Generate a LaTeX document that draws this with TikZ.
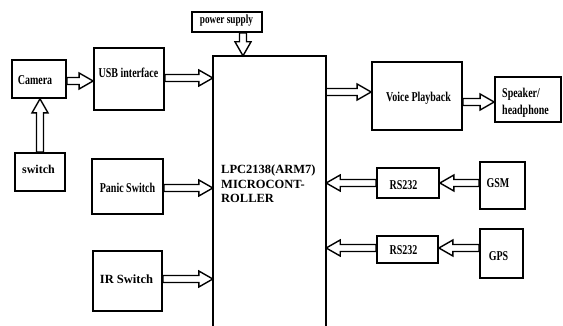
\documentclass[tikz,border=0pt]{standalone}
\usepackage{fontspec}
\setmainfont{Liberation Serif}
\newfontfamily\cnd[FakeStretch=0.74]{Liberation Serif Bold}
\newfontfamily\nrm{Liberation Serif Bold}
\usetikzlibrary{calc}
\begin{document}
\begin{tikzpicture}[x=1pt,y=-1pt,
  box/.style={draw, line width=1.8pt, inner sep=0pt},
  ct/.style={font=\cnd\fontsize{13.5}{17}\selectfont, inner sep=0pt},
  nt/.style={font=\nrm\fontsize{12.5}{14.5}\selectfont, inner sep=0pt},
  hol/.style={draw, line width=1.4pt, fill=white, line join=miter,
    to path={let \p3=($(\tikztotarget)!14pt!(\tikztostart)$) in
      ($(\tikztostart)!3.5pt!90:(\tikztotarget)$) -- ($(\p3)!3.5pt!90:(\tikztotarget)$)
      -- ($(\p3)!8pt!90:(\tikztotarget)$) -- (\tikztotarget)
      -- ($(\p3)!8pt!-90:(\tikztotarget)$) -- ($(\p3)!3.5pt!-90:(\tikztotarget)$)
      -- ($(\tikztostart)!3.5pt!-90:(\tikztotarget)$) -- cycle}}
]
\useasboundingbox (0,0) rectangle (563,326);

% boxes
\node[box, minimum width=70, minimum height=20] (power) at (227,22) {};
\node[minimum width=113, minimum height=270, inner sep=0pt] (mcu) at (269.5,191) {};
\draw[line width=1.5pt] (mcu.south west) -- (mcu.north west) -- (mcu.north east) -- (mcu.south east);
\node[box, minimum width=54, minimum height=38] (camera) at (39,79) {};
\node[box, minimum width=70, minimum height=62] (usb) at (129,79) {};
\node[box, minimum width=50, minimum height=38] (sw) at (40,172) {};
\node[box, minimum width=71, minimum height=55] (panic) at (127.5,186.5) {};
\node[box, minimum width=69, minimum height=60] (ir) at (127.5,281) {};
\node[box, minimum width=90, minimum height=68] (voice) at (417,96) {};
\node[box, minimum width=66, minimum height=45] (speaker) at (528,99.5) {};
\node[box, minimum width=62, minimum height=30] (rsa) at (408,183) {};
\node[box, minimum width=45, minimum height=47] (gsm) at (502.5,185.5) {};
\node[box, minimum width=61, minimum height=27] (rsb) at (407.5,249.5) {};
\node[box, minimum width=43, minimum height=49] (gps) at (501.5,253.5) {};

% labels
\node[ct, font=\cnd\fontsize{12.5}{14}\selectfont] (powert) at (226.5,21) {power supply};
\node[nt, anchor=north west, align=left] (mcut) at (221,165) {LPC2138(ARM7)\\MICROCONT-\\ROLLER};
\node[ct] (camerat) at (35,80) {Camera};
\node[ct] (usbt) at (128.5,73) {USB interface};
\node[nt, font=\nrm\fontsize{12}{14}\selectfont] (swt) at (38.5,169) {switch};
\node[ct] (panict) at (127.5,188) {Panic Switch};
\node[nt] (irt) at (126.5,279) {IR Switch};
\node[ct] (voicet) at (418.5,98) {Voice Playback};
\node[ct, anchor=west, align=left] (speakert) at (502,102.5) {Speaker/\\headphone};
\node[ct] (rsat) at (403.5,185) {RS232};
\node[ct] (rsbt) at (403.5,250) {RS232};
\node[ct] (gsmt) at (498,183) {GSM};
\node[ct] (gpst) at (498.5,256) {GPS};

% arrows
\coordinate (pa) at ($(power.south)+(16,0)$);
\path[hol] (pa) to (pa |- mcu.north);
\path[hol] ([yshift=-2pt]camera.east) to ([yshift=-2pt]camera.east -| usb.west);
\path[hol] ([yshift=1pt]usb.east) to ([yshift=1pt]usb.east -| mcu.west);
\path[hol] (sw.north) to (sw.north |- camera.south);
\path[hol] ([yshift=-1.5pt]panic.east) to ([yshift=-1.5pt]panic.east -| mcu.west);
\path[hol] ([yshift=2pt]ir.east) to ([yshift=2pt]ir.east -| mcu.west);
\path[hol] ([yshift=4pt]voice.west -| mcu.east) to ([yshift=4pt]voice.west);
\path[hol] ([yshift=-2.5pt]speaker.west -| voice.east) to ([yshift=-2.5pt]speaker.west);
\path[hol] (rsa.east -| gsm.west) to (rsa.east);
\path[hol] (rsa.west) to (rsa.west -| mcu.east);
\path[hol] ([yshift=1.5pt]rsb.east -| gps.west) to ([yshift=1.5pt]rsb.east);
\path[hol] ([yshift=1.5pt]rsb.west) to ([yshift=1.5pt]rsb.west -| mcu.east);
\end{tikzpicture}
\end{document}
